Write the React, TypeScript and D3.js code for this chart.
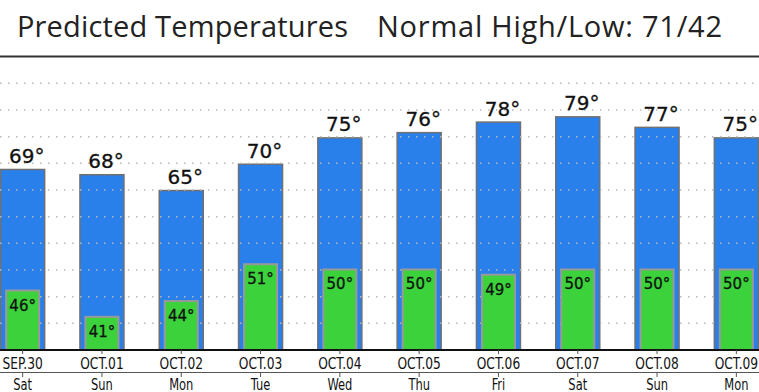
import * as d3 from 'd3';
import React, { ReactElement } from 'react';

const WIDTH = 759;
const HEIGHT = 392;

const dates = ['SEP.30', 'OCT.01', 'OCT.02', 'OCT.03', 'OCT.04', 'OCT.05', 'OCT.06', 'OCT.07', 'OCT.08', 'OCT.09'];
const days = ['Sat', 'Sun', 'Mon', 'Tue', 'Wed', 'Thu', 'Fri', 'Sat', 'Sun', 'Mon'];
const highs = [69, 68, 65, 70, 75, 76, 78, 79, 77, 75];
const lows = [46, 41, 44, 51, 50, 50, 49, 50, 50, 50];
const gridSteps = [1, 2, 3, 4, 5, 6, 7, 8, 9, 10];

const BLUE = '#2a80ea';
const GREEN = '#3bd23b';
const LABEL_FONT = '"DejaVu Sans", Verdana, sans-serif';
const AXIS_FONT = '"DejaVu Sans Condensed", "DejaVu Sans", sans-serif';
const BASE = 350;

const App = (): ReactElement => {
  const x = d3.scaleBand<string>().domain(dates).range([-17, 776]).paddingInner(0.445).paddingOuter(0.2225);
  // temperature scale (bars) and the evenly spaced background grid
  const y = d3.scaleLinear().domain([34.7, 85]).range([BASE, BASE - 5.263 * 50.3]);
  const grid = d3.scaleLinear().domain([0, 10]).range([BASE, 83.3]);
  const bw = x.bandwidth();
  const gw = bw * 0.75;

  return (
    <svg width={WIDTH} height={HEIGHT} style={{ position: 'absolute', left: 0, top: 0, background: '#fff' }}>
      {/* header */}
      <text x={17} y={37} fontFamily='"Open Sans", sans-serif' fontSize={29} fill="#222" textLength={331}>
        Predicted Temperatures
      </text>
      <text x={377} y={37} fontFamily='"Open Sans", sans-serif' fontSize={29} fill="#222" textLength={345}>
        Normal High/Low: 71/42
      </text>
      <line x1={0} x2={WIDTH} y1={56.5} y2={56.5} stroke="#333" strokeWidth={2} />

      {/* highs */}
      {highs.map((v, i) => (
        <rect
          key={'h' + i}
          x={x(dates[i]) as number}
          y={y(v)}
          width={bw}
          height={BASE - y(v)}
          fill={BLUE}
          stroke="#707070"
          strokeWidth={1.5}
        />
      ))}

      {/* dotted grid */}
      {gridSteps.map((t) => (
        <line
          key={'g' + t}
          x1={0}
          x2={WIDTH}
          y1={grid(t)}
          y2={grid(t)}
          stroke="#b8b8b8"
          strokeWidth={1.5}
          strokeDasharray="1.5 6.5"
        />
      ))}

      {/* lows */}
      {lows.map((v, i) => (
        <rect
          key={'l' + i}
          x={(x(dates[i]) as number) + (bw - gw) / 2}
          y={y(v)}
          width={gw}
          height={BASE - y(v)}
          fill={GREEN}
          stroke="#999"
          strokeWidth={2}
        />
      ))}

      {highs.map((v, i) => (
        <text
          key={'ht' + i}
          x={(x(dates[i]) as number) + bw / 2 + 4}
          y={y(v) - 6.5}
          textAnchor="middle"
          fontFamily={LABEL_FONT}
          fontSize={20}
          fill="#111"
          stroke="#111"
          strokeWidth={0.3}
        >
          {v}°
        </text>
      ))}
      {lows.map((v, i) => (
        <text
          key={'lt' + i}
          x={(x(dates[i]) as number) + bw / 2}
          y={y(v) + 20}
          textAnchor="middle"
          fontFamily={LABEL_FONT}
          fontSize={15}
          fill="#111"
          stroke="#111"
          strokeWidth={0.3}
        >
          {v}°
        </text>
      ))}

      {/* axis */}
      <line x1={0} x2={WIDTH} y1={BASE} y2={BASE} stroke="#111" strokeWidth={2} />
      <line x1={0} x2={WIDTH} y1={372.5} y2={372.5} stroke="#555" strokeWidth={1} />
      {dates.map((d, i) => {
        const cx = (x(d) as number) + bw / 2;
        return (
          <g key={'a' + i}>
            <line x1={cx} x2={cx} y1={BASE} y2={354} stroke="#555" />
            <line x1={cx} x2={cx} y1={373} y2={377} stroke="#555" />
            <text
              transform={`translate(${cx},369) scale(0.85,1)`}
              textAnchor="middle"
              fontFamily={AXIS_FONT}
              fontSize={16}
              fill="#111"
            >
              {d}
            </text>
            <text
              transform={`translate(${cx},390) scale(0.85,1)`}
              textAnchor="middle"
              fontFamily={AXIS_FONT}
              fontSize={15}
              fill="#111"
            >
              {days[i]}
            </text>
          </g>
        );
      })}
    </svg>
  );
};

export default App;
